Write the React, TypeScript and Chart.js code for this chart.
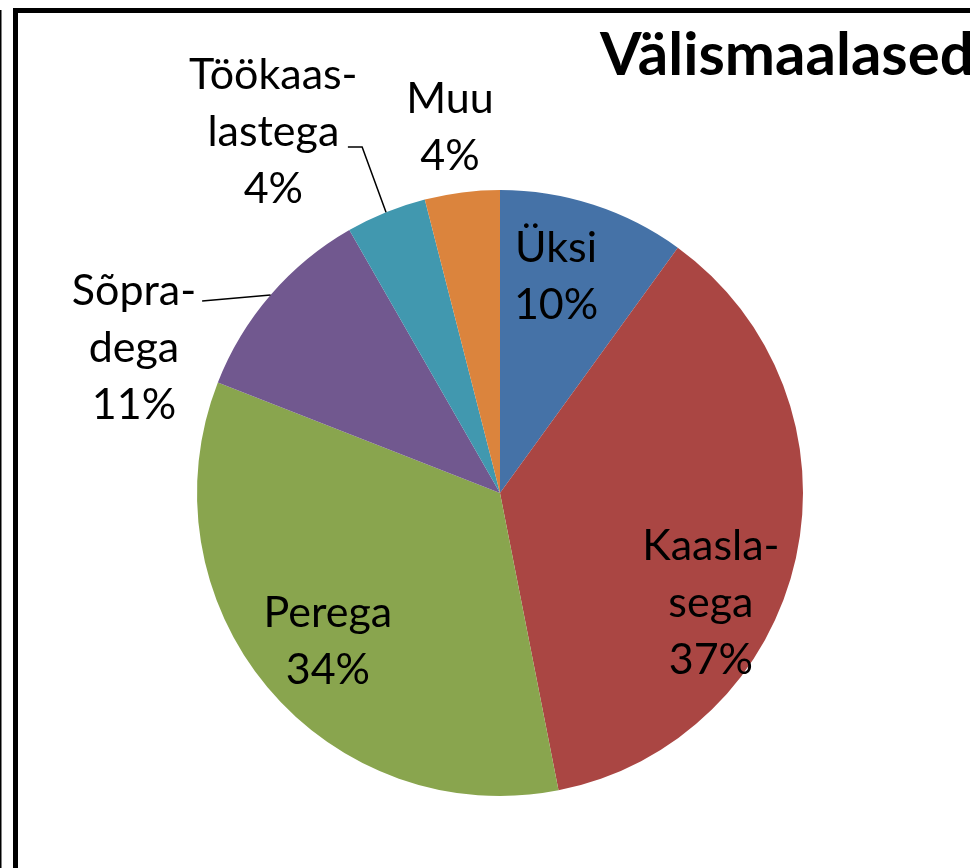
import React, { useEffect, useRef } from "react";
import { Chart, registerables } from "chart.js";

Chart.register(...registerables);

const title = "Välismaalased";
const categories = ["Üksi", "Kaaslasega", "Perega", "Sõpradega", "Töökaaslastega", "Muu"];
const labelLines = [["Üksi"], ["Kaasla-", "sega"], ["Perega"], ["Sõpra-", "dega"], ["Töökaas-", "lastega"], ["Muu"]];
const shares = [10.0, 37.0, 34.1, 10.8, 4.3, 4.0];
const colors = ["#4572A7", "#AA4643", "#89A54E", "#71588F", "#4198AF", "#DB843D"];

// label layout, in units of the pie radius relative to the pie centre
const labelAnchors = [
  { dx: 0.185, dy: -0.762 },
  { dx: 0.696, dy: 0.221 },
  { dx: -0.568, dy: 0.442 },
  { dx: -1.208, dy: -0.62 },
  { dx: -0.748, dy: -1.333 },
  { dx: -0.165, dy: -1.254 },
];
// leader lines: start points (radius units); end at slice middle on the rim
const leaders: Record<number, { x: number; y: number }[]> = {
  3: [{ x: -0.983, y: -0.634 }],
  4: [{ x: -0.502, y: -1.142 }, { x: -0.455, y: -1.142 }],
};

const LABEL_FONT = "43px Lato";
const LINE_H = 57;

const framePlugin = {
  id: "frame",
  beforeDraw(chart: any) {
    const { ctx, width, height } = chart;
    ctx.save();
    ctx.fillStyle = "#ffffff";
    ctx.fillRect(0, 0, width, height);
    ctx.fillStyle = "#000000";
    ctx.fillRect(0, 10, 1.5, height - 10);
    ctx.fillRect(13, 8, 5, height - 8);
    ctx.fillRect(13, 8, width - 13, 5);
    ctx.restore();
  },
  afterDraw(chart: any) {
    const { ctx } = chart;
    const meta = chart.getDatasetMeta(0);
    const data = chart.data.datasets[0].data as number[];
    const total = data.reduce((a, b) => a + b, 0);
    const arc0 = meta.data[0];
    const cx = arc0.x;
    const cy = arc0.y;
    const R = arc0.outerRadius;
    ctx.save();
    // title
    ctx.fillStyle = "#000";
    ctx.font = "bold 60px Lato";
    ctx.textAlign = "left";
    ctx.textBaseline = "alphabetic";
    ctx.fillText(title, 600, 75);
    // leader lines
    ctx.strokeStyle = "#000";
    ctx.lineWidth = 1.5;
    Object.keys(leaders).forEach((k) => {
      const i = Number(k);
      const arc = meta.data[i];
      const mid = (arc.startAngle + arc.endAngle) / 2;
      ctx.beginPath();
      leaders[i].forEach((p, j) => {
        const px = cx + p.x * R;
        const py = cy + p.y * R;
        if (j === 0) ctx.moveTo(px, py);
        else ctx.lineTo(px, py);
      });
      ctx.lineTo(cx + Math.cos(mid) * R, cy + Math.sin(mid) * R);
      ctx.stroke();
    });
    // labels
    ctx.font = LABEL_FONT;
    ctx.textAlign = "center";
    labelLines.forEach((lines, i) => {
      const pct = Math.round((data[i] / total) * 100) + "%";
      const all = [...lines, pct];
      const a = labelAnchors[i];
      const x = cx + a.dx * R;
      const y0 = cy + a.dy * R;
      all.forEach((t, j) => ctx.fillText(t, x, y0 + j * LINE_H));
    });
    ctx.restore();
  },
};

export default function App() {
  const ref = useRef<HTMLCanvasElement | null>(null);
  useEffect(() => {
    if (!ref.current) return;
    const chart = new Chart(ref.current, {
      type: "pie",
      data: {
        labels: categories,
        datasets: [
          {
            data: shares,
            backgroundColor: colors,
            borderWidth: 0,
          },
        ],
      },
      options: {
        responsive: false,
        animation: false,
        layout: { padding: { left: 197, right: 167, top: 190, bottom: 72 } },
        plugins: {
          legend: { display: false },
          tooltip: { enabled: false },
          title: { display: false },
        },
      },
      plugins: [framePlugin],
    });
    return () => chart.destroy();
  }, []);
  return (
    <div style={{ position: "fixed", left: 0, top: 0, width: 970, height: 868, background: "#fff" }}>
      <canvas ref={ref} width={970} height={868} />
    </div>
  );
}
